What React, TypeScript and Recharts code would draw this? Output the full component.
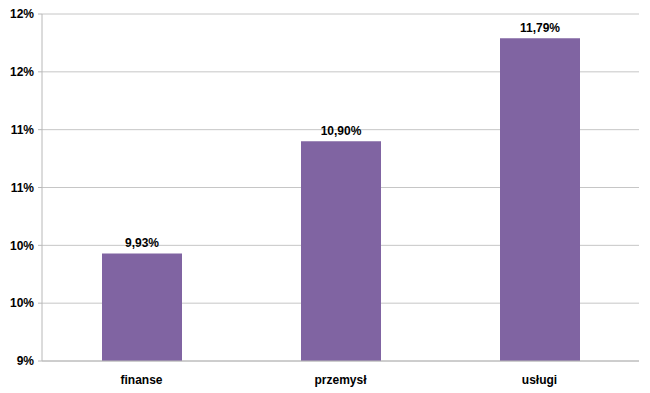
import { BarChart, Bar, XAxis, YAxis, CartesianGrid, LabelList } from "recharts";

const categories = ["finanse", "przemysł", "usługi"];
const values = [9.93, 10.9, 11.79];
const yTicks = [9, 9.5, 10, 10.5, 11, 11.5, 12];

const data = categories.map((name, i) => ({ name, value: values[i] }));

const font = "Liberation Sans, Arial, sans-serif";

export default function App() {
  return (
    <div style={{ position: "absolute", left: 0, top: 0, background: "#fff" }}>
      <BarChart
        width={650}
        height={393}
        data={data}
        margin={{ top: 14, right: 11, left: 0, bottom: 0 }}
      >
        <CartesianGrid vertical={false} stroke="#c6c6c6" />
        <XAxis
          dataKey="name"
          height={32}
          stroke="#b8b8b8"
          tickLine={false}
          tickMargin={8}
          tick={{ fill: "#000", fontSize: 12, fontWeight: "bold", fontFamily: font }}
        />
        <YAxis
          width={42}
          domain={[9, 12]}
          ticks={yTicks}
          interval={0}
          stroke="#b8b8b8"
          tickSize={4}
          tickMargin={4}
          tickFormatter={(v: number) => `${Math.round(v)}%`}
          tick={{ fill: "#000", fontSize: 12, fontWeight: "bold", fontFamily: font }}
        />
        <Bar dataKey="value" fill="#8064a2" barSize={80} isAnimationActive={false}>
          <LabelList
            dataKey="value"
            position="top"
            offset={6}
            formatter={(v: number) => `${v.toFixed(2).replace(".", ",")}%`}
            style={{ fill: "#000", fontSize: 12, fontWeight: "bold", fontFamily: font }}
          />
        </Bar>
      </BarChart>
    </div>
  );
}
